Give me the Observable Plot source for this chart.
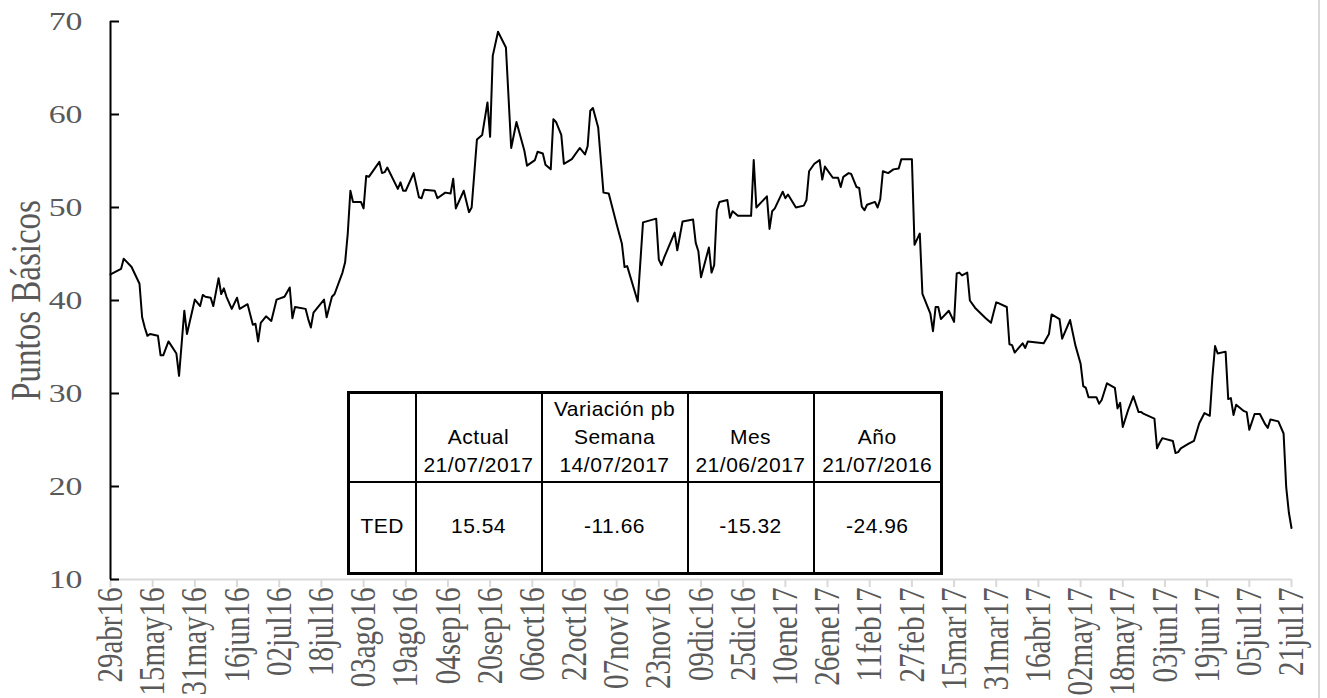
<!DOCTYPE html>
<html>
<head>
<meta charset="utf-8">
<script src="https://cdn.jsdelivr.net/npm/d3@7"></script>
<script src="https://cdn.jsdelivr.net/npm/@observablehq/plot@0.6"></script>
<style>
  html, body { margin: 0; padding: 0; background: #fff; }
  #wrap { position: relative; width: 1327px; height: 698px; overflow: hidden; background: #fff; }
  #edge { position: absolute; left: 1318px; top: 0; width: 2px; height: 698px; background: #d9d9d9; }
  #tbl { position: absolute; left: 347px; top: 391px; border-collapse: collapse; background: #fff;
         font-family: "Liberation Sans", Arial, sans-serif; font-size: 21px; letter-spacing: 0.5px; color: #000;
         border: 3px solid #000; }
  #tbl td { border: 2px solid #000; text-align: center; padding: 0; }
  #tbl tr.head td { height: 85px; vertical-align: bottom; line-height: 28px; padding-bottom: 2px; }
  #tbl tr.vals td { height: 85px; vertical-align: middle; padding-bottom: 4px; }
</style>
</head>
<body>
<div id="wrap"></div>
<script>
// ---- data ----
const dates = [
"2016-04-29","2016-05-03","2016-05-04","2016-05-07","2016-05-10","2016-05-11","2016-05-12","2016-05-13","2016-05-14","2016-05-17",
"2016-05-18","2016-05-19","2016-05-21","2016-05-24","2016-05-25","2016-05-27","2016-05-28","2016-05-31","2016-06-02","2016-06-03",
"2016-06-04","2016-06-06","2016-06-07","2016-06-09","2016-06-10","2016-06-11","2016-06-12","2016-06-14","2016-06-16","2016-06-17",
"2016-06-20","2016-06-22","2016-06-23","2016-06-24","2016-06-25","2016-06-27","2016-06-29","2016-07-01","2016-07-04","2016-07-06",
"2016-07-07","2016-07-08","2016-07-12","2016-07-13","2016-07-14","2016-07-15","2016-07-19","2016-07-20","2016-07-22","2016-07-23",
"2016-07-26","2016-07-27","2016-07-28","2016-07-29","2016-07-30","2016-08-02","2016-08-03","2016-08-04","2016-08-05","2016-08-09",
"2016-08-10","2016-08-11","2016-08-12","2016-08-16","2016-08-17","2016-08-18","2016-08-19","2016-08-22","2016-08-24","2016-08-25",
"2016-08-26","2016-08-30","2016-08-31","2016-09-03","2016-09-05","2016-09-06","2016-09-07","2016-09-10","2016-09-12","2016-09-13",
"2016-09-15","2016-09-17","2016-09-19","2016-09-20","2016-09-21","2016-09-23","2016-09-26","2016-09-28","2016-09-30","2016-10-03",
"2016-10-04","2016-10-07","2016-10-08","2016-10-10","2016-10-11","2016-10-13","2016-10-14","2016-10-15","2016-10-17","2016-10-18",
"2016-10-21","2016-10-24","2016-10-26","2016-10-27","2016-10-28","2016-10-29","2016-10-31","2016-11-02","2016-11-04","2016-11-07",
"2016-11-09","2016-11-10","2016-11-11","2016-11-15","2016-11-17","2016-11-22","2016-11-23","2016-11-24","2016-11-25","2016-11-29",
"2016-11-30","2016-12-02","2016-12-06","2016-12-07","2016-12-08","2016-12-09","2016-12-12","2016-12-13","2016-12-14","2016-12-15",
"2016-12-16","2016-12-19","2016-12-20","2016-12-21","2016-12-23","2016-12-28","2016-12-29","2016-12-30","2017-01-03","2017-01-04",
"2017-01-05","2017-01-06","2017-01-09","2017-01-10","2017-01-11","2017-01-14","2017-01-17","2017-01-18","2017-01-19","2017-01-21",
"2017-01-23","2017-01-24","2017-01-25","2017-01-28","2017-01-30","2017-01-31","2017-02-01","2017-02-03","2017-02-04","2017-02-06",
"2017-02-07","2017-02-08","2017-02-09","2017-02-10","2017-02-13","2017-02-14","2017-02-15","2017-02-16","2017-02-18","2017-02-20",
"2017-02-22","2017-02-23","2017-02-27","2017-02-28","2017-03-01","2017-03-02","2017-03-03","2017-03-06","2017-03-07","2017-03-08",
"2017-03-09","2017-03-10","2017-03-13","2017-03-15","2017-03-16","2017-03-17","2017-03-18","2017-03-20","2017-03-21","2017-03-23",
"2017-03-27","2017-03-29","2017-03-31","2017-04-01","2017-04-04","2017-04-05","2017-04-06","2017-04-07","2017-04-10","2017-04-11",
"2017-04-12","2017-04-18","2017-04-20","2017-04-21","2017-04-24","2017-04-25","2017-04-28","2017-04-30","2017-05-02","2017-05-03",
"2017-05-04","2017-05-05","2017-05-08","2017-05-09","2017-05-10","2017-05-12","2017-05-15","2017-05-16","2017-05-17","2017-05-18",
"2017-05-20","2017-05-22","2017-05-24","2017-05-25","2017-05-26","2017-05-30","2017-05-31","2017-06-01","2017-06-02","2017-06-06",
"2017-06-07","2017-06-08","2017-06-09","2017-06-12","2017-06-14","2017-06-16","2017-06-18","2017-06-20","2017-06-21","2017-06-22",
"2017-06-23","2017-06-26","2017-06-27","2017-06-28","2017-06-29","2017-06-30","2017-07-03","2017-07-04","2017-07-05","2017-07-07",
"2017-07-09","2017-07-11","2017-07-12","2017-07-13","2017-07-16","2017-07-18","2017-07-19","2017-07-20","2017-07-21"
];
const tedValues = [
42.8,43.4,44.5,43.6,41.8,38.2,37.1,36.2,36.4,36.2,
34.1,34.1,35.6,34.3,31.9,38.9,36.4,40.1,39.4,40.6,
40.4,40.3,39.4,42.4,40.7,41.3,40.4,39.1,40.3,39.1,
39.6,37.4,37.5,35.6,37.6,38.3,37.8,40.1,40.4,41.4,
38.1,39.3,39.1,38.0,37.1,38.7,40.1,38.2,40.4,40.7,
43.0,44.1,47.2,51.8,50.6,50.6,49.9,53.4,53.3,54.9,
53.7,53.8,54.3,52.0,52.7,51.8,51.8,53.7,51.1,51.0,
51.9,51.8,51.0,51.6,51.5,53.1,49.9,51.8,49.5,50.0,
57.3,57.8,61.3,57.6,66.3,68.9,67.2,56.4,59.2,56.1,
54.5,55.1,56.0,55.8,54.6,54.1,59.5,59.2,57.8,54.7,
55.2,56.4,55.7,56.6,60.4,60.7,58.6,51.6,51.5,48.2,
46.1,43.6,43.7,39.9,48.4,48.8,44.4,43.8,44.6,47.3,
45.4,48.5,48.7,46.2,45.3,42.5,45.7,43.0,43.8,49.7,
50.6,50.8,48.9,49.6,49.1,49.1,55.1,50.0,51.2,47.7,
49.6,49.9,51.7,51.0,51.4,50.0,50.2,50.8,53.9,54.7,
55.1,53.0,54.4,53.2,53.2,52.2,53.3,53.7,53.6,52.2,
52.1,50.1,49.7,50.3,50.6,50.0,50.9,53.9,53.7,54.1,
54.2,55.2,55.2,46.0,46.6,47.2,40.7,38.6,36.7,39.3,
39.3,38.0,38.9,37.7,42.9,43.0,42.7,43.0,40.0,39.2,
38.1,37.6,39.8,39.7,39.3,35.3,35.2,34.4,35.4,34.9,
35.6,35.4,36.4,38.5,38.0,35.9,37.9,35.2,33.2,30.8,
30.6,29.6,29.6,28.9,29.3,31.1,30.6,28.4,29.0,26.4,
28.2,29.7,28.0,28.0,27.8,27.3,24.1,24.7,25.2,24.9,
23.6,23.7,24.1,24.6,24.9,26.8,27.9,27.6,31.8,35.1,
34.3,34.5,29.4,29.5,27.7,28.8,28.1,28.0,26.1,27.8,
27.8,26.7,26.3,27.2,27.0,25.7,19.9,17.2,15.54
];
const tickDates = [
"2016-04-29","2016-05-15","2016-05-31","2016-06-16","2016-07-02","2016-07-18","2016-08-03","2016-08-19",
"2016-09-04","2016-09-20","2016-10-06","2016-10-22","2016-11-07","2016-11-23","2016-12-09","2016-12-25",
"2017-01-10","2017-01-26","2017-02-11","2017-02-27","2017-03-15","2017-03-31","2017-04-16","2017-05-02",
"2017-05-18","2017-06-03","2017-06-19","2017-07-05","2017-07-21"
];
const tickLabels = [
"29abr16","15may16","31may16","16jun16","02jul16","18jul16","03ago16","19ago16",
"04sep16","20sep16","06oct16","22oct16","07nov16","23nov16","09dic16","25dic16",
"10ene17","26ene17","11feb17","27feb17","15mar17","31mar17","16abr17","02may17",
"18may17","03jun17","19jun17","05jul17","21jul17"
];
const yTicks = [10, 20, 30, 40, 50, 60, 70];
const yTitle = "Puntos Básicos";
const tableHeadTop = ["", "", "Variación pb", "", ""];
const tableHeadMid = ["", "Actual", "Semana", "Mes", "Año"];
const tableHeadDates = ["", "21/07/2017", "14/07/2017", "21/06/2017", "21/07/2016"];
const tableRow = ["TED", "15.54", "-11.66", "-15.32", "-24.96"];
const tableColWidths = [67, 126, 146, 126, 128];

// ---- build ----
const parse = d3.utcParse("%Y-%m-%d");
const data = dates.map((d, i) => ({date: parse(d), value: tedValues[i]}));
const ticks = tickDates.map(parse);
const labelByTime = new Map(ticks.map((d, i) => [+d, tickLabels[i]]));
const serif = "'Liberation Serif', 'Times New Roman', serif";
const gray = "#595959";

const chart = Plot.plot({
  width: 1327,
  height: 698,
  marginLeft: 110,
  marginRight: 36,
  marginTop: 21,
  marginBottom: 119,
  x: {type: "utc", domain: [data[0].date, data[data.length - 1].date], label: null},
  y: {domain: [10, 70], label: null},
  style: {background: "transparent"},
  marks: [
    Plot.ruleY([yTicks[0]], {stroke: "#d9d9d9", strokeWidth: 2}),
    Plot.axisX({ticks, tickSize: 8, tickFormat: () => "", label: null, stroke: "#d9d9d9", strokeWidth: 2}),
    Plot.axisX({ticks, tickSize: 0, tickPadding: 8, tickRotate: -90, label: null,
      tickFormat: d => labelByTime.get(+d), fill: gray, fontSize: 29, fontFamily: serif}),
    Plot.axisY({ticks: yTicks, tickSize: -9, tickFormat: () => "", label: null, stroke: "#000", strokeWidth: 2}),
    Plot.axisY({ticks: yTicks, tickSize: 0, tickPadding: 28, label: null,
      fill: gray, fontSize: 26, fontFamily: serif}),
    Plot.ruleX([data[0].date], {stroke: "#000", strokeWidth: 2}),
    Plot.text([yTitle], {frameAnchor: "left", textAnchor: "middle", lineAnchor: "middle", rotate: -90, dx: -84,
      fill: gray, fontSize: 33, fontFamily: serif}),
    Plot.line(data, {x: "date", y: "value", stroke: "#000", strokeWidth: 2})
  ]
});

// widen axis glyphs like the (horizontally stretched) original
function widen(selector, sx, sy) {
  chart.querySelectorAll(selector).forEach(t => {
    let tr = t.getAttribute("transform");
    if (!tr) {
      const x = t.getAttribute("x") || 0, y = t.getAttribute("y") || 0;
      t.removeAttribute("x"); t.removeAttribute("y");
      tr = `translate(${x},${y})`;
    }
    t.setAttribute("transform", `${tr} scale(${sx},${sy})`);
  });
}
widen('g[aria-label="y-axis tick label"] text', 1.3, 1);
widen('g[aria-label="x-axis tick label"] text', 1, 1.25);
widen('g[aria-label="text"] text', 1, 1.25);

const wrap = document.getElementById("wrap");
wrap.appendChild(chart);
const edge = document.createElement("div");
edge.id = "edge";
wrap.appendChild(edge);

// table overlay
const table = document.createElement("table");
table.id = "tbl";
const colgroup = document.createElement("colgroup");
tableColWidths.forEach(w => { const c = document.createElement("col"); c.style.width = w + "px"; colgroup.appendChild(c); });
table.appendChild(colgroup);
const trH = document.createElement("tr");
trH.className = "head";
tableHeadMid.forEach((m, i) => {
  const td = document.createElement("td");
  const lines = [tableHeadTop[i], m, tableHeadDates[i]].filter(s => s !== "");
  lines.forEach((s, j) => { if (j) td.appendChild(document.createElement("br")); td.appendChild(document.createTextNode(s)); });
  trH.appendChild(td);
});
table.appendChild(trH);
const trV = document.createElement("tr");
trV.className = "vals";
tableRow.forEach(v => { const td = document.createElement("td"); td.textContent = v; trV.appendChild(td); });
table.appendChild(trV);
wrap.appendChild(table);
</script>
</body>
</html>
